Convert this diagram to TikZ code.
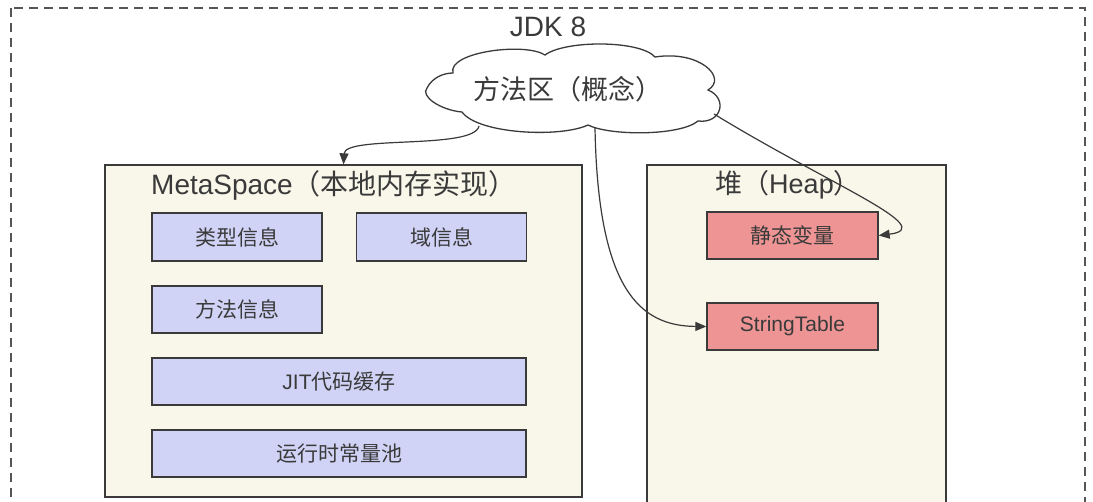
\documentclass[tikz,border=0pt]{standalone}
\usepackage{fontspec}
\setmainfont{Liberation Sans}
\newfontfamily\cjk{Noto Sans CJK SC}
\usetikzlibrary{arrows.meta}
\definecolor{cream}{HTML}{F9F7E9}
\definecolor{lav}{HTML}{D1D3F6}
\definecolor{rose}{HTML}{EE9494}
\definecolor{ink}{HTML}{3A3A3A}
\definecolor{dashc}{HTML}{555555}
\begin{document}
\begin{tikzpicture}[x=1pt,y=-1pt,
  container/.style={draw=ink, line width=1.3pt, fill=cream, inner sep=0pt},
  item/.style={draw=ink, line width=1.3pt, fill=lav, inner sep=0pt, text=ink,
    font=\fontsize{21}{25}\selectfont},
  hitem/.style={item, fill=rose},
  title/.style={text=ink, inner sep=0pt, font=\fontsize{27}{32}\selectfont},
  cloudline/.style={draw=ink, line width=1.3pt, fill=white},
  conn/.style={draw=ink, line width=1.2pt, -{Triangle[length=11pt,width=9pt]}}]
\useasboundingbox (0,0) rectangle (1093,501);
\clip (0,0) rectangle (1093,501);
\fill[white] (0,0) rectangle (1093,501);
\draw[dashc, line width=1.3pt, dash pattern=on 9pt off 6pt] (11,8) rectangle (1085,560);
\node[title, font=\fontsize{28}{32}\selectfont] (jdk) at (548,27) {JDK 8};
\node[container, minimum width=477, minimum height=332] (meta) at (343.5,331) {};
\node[container, minimum width=299, minimum height=390] (heap) at (796.5,360) {};
\node[title, font=\fontsize{28}{32}\selectfont] (metatitle) at (334,185) {MetaSpace{\cjk （本地内存实现）}};
\node[title] (heaptitle) at (788,185) {{\cjk 堆（}Heap{\cjk ）}};
\node[item, minimum width=170, minimum height=48] (type) at (237,237) {\cjk 类型信息};
\node[item, minimum width=170, minimum height=48] (field) at (441.5,237) {\cjk 域信息};
\node[item, minimum width=170, minimum height=47] (method) at (237,309.5) {\cjk 方法信息};
\node[item, minimum width=374, minimum height=47] (jit) at (339,381.5) {JIT{\cjk 代码缓存}};
\node[item, minimum width=374, minimum height=47] (rtcp) at (339,453.5) {\cjk 运行时常量池};
\node[hitem, minimum width=171, minimum height=47] (static) at (792.5,235.5) {\cjk 静态变量};
\node[hitem, minimum width=171, minimum height=47] (strtab) at (792.5,326.5) {StringTable};
% cloud outline
\path[cloudline] (427,88)
  .. controls (432,78) and (443,73) .. (453,73)
  .. controls (447,52) and (525,42) .. (545,55)
  .. controls (565,40) and (640,40) .. (655,57)
  .. controls (700,50) and (728,78) .. (708,90)
  .. controls (728,98) and (722,124) .. (698,121)
  .. controls (680,136) and (610,136) .. (588,125)
  .. controls (560,138) and (478,134) .. (462,112)
  .. controls (440,110) and (420,96) .. (427,88) -- cycle;
\node[text=ink, inner sep=0pt, font=\cjk\fontsize{27}{32}\selectfont] (cloud) at (568,89) {方法区（概念）};
\coordinate (c1) at (479,126);
\coordinate (c2) at (595,128);
\coordinate (c3) at (714,114);
\draw[conn] (c1) .. controls (474,150) and (345,135) .. (meta.north);
\draw[conn] (c2) .. controls (598,290) and (640,326) .. (strtab.west);
\draw[conn] (c3) .. controls (830,185) and (940,228) .. (static.east);
\end{tikzpicture}
\end{document}
